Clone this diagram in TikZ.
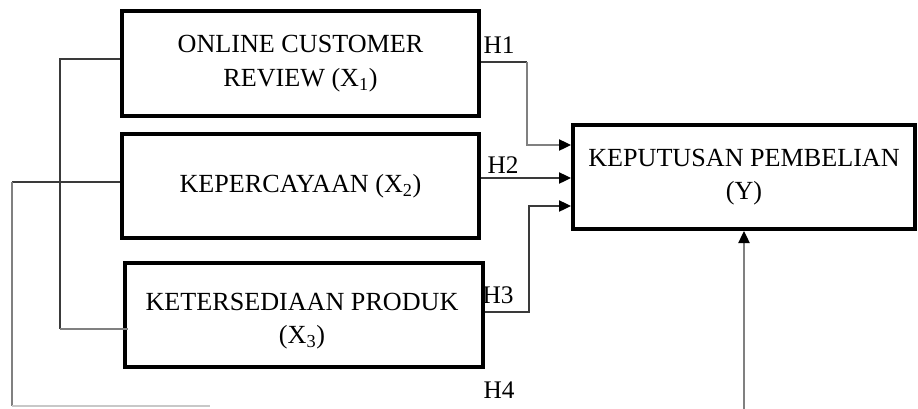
\documentclass[tikz,border=0pt]{standalone}
\usepackage{fontspec}
\setmainfont{Liberation Serif}
\usetikzlibrary{arrows.meta}
\definecolor{conn}{HTML}{3A3A3A}
\definecolor{connlight}{HTML}{808080}
\definecolor{connpale}{HTML}{C8C8C8}
\begin{document}
\begin{tikzpicture}[x=0.75pt,y=-0.75pt,
  box/.style={draw=black, line width=3pt, fill=white, align=center, inner sep=0pt,
    font=\fontsize{19.6}{25}\selectfont},
  lbl/.style={font=\fontsize{19}{22}\selectfont, inner sep=0pt},
  wire/.style={draw=conn, line width=0.9pt},
  arr/.style={wire, -{Triangle[length=9pt,width=8.5pt,color=black]}}
]
\useasboundingbox (0,0) rectangle (918,408);
\node[box, minimum width=267.75pt, minimum height=78.75pt] (b1) at (300.5,63.5) {ONLINE CUSTOMER\\REVIEW (X\textsubscript{1})};
\node[box, minimum width=267.75pt, minimum height=78pt] (b2) at (300.5,186) {KEPERCAYAAN (X\textsubscript{2})};
\node[box, minimum width=268.5pt, minimum height=78pt] (b3) at (304,315) {};
\node[font=\fontsize{19.6}{25}\selectfont, align=center, inner sep=0pt] (t3) at (302,321) {KETERSEDIAAN PRODUK\\(X\textsubscript{3})};
\node[box, minimum width=256.5pt, minimum height=78pt] (y) at (744,177) {KEPUTUSAN PEMBELIAN\\(Y)};

\node[lbl] (h1) at (499,45) {H1};
\node[lbl] (h2) at (503,165) {H2};
\node[lbl] (h3) at (498,295) {H3};
\node[lbl] (h4) at (499,390) {H4};

% H1
\coordinate (h1a) at (527,62);
\coordinate (h1b) at (527,145);
\draw[wire] (b1.east |- 0,62) -- (h1a);
\draw[arr, draw=connlight] (h1a) -- (h1b) -- (y.west |- 0,145);
% H2
\draw[arr] (b2.east |- 0,178) -- (y.west |- 0,178);
% H3
\coordinate (h3a) at (529,312);
\coordinate (h3b) at (529,206);
\draw[arr] (b3.east |- 0,312) -- (h3a) -- (h3b) -- (y.west |- 0,206);

% left connectors
\coordinate (l1a) at (60,59);
\coordinate (l1b) at (60,329);
\coordinate (l1c) at (128,329);
\draw[wire] (b1.west |- 0,59) -- (l1a) -- (l1b);
\draw[wire, draw=connlight] (l1b) -- (l1c);
\coordinate (l2a) at (12,182);
\coordinate (l2b) at (12,406);
\coordinate (l2c) at (210,406);
\draw[wire] (b2.west |- 0,182) -- (l2a);
\draw[wire, draw=connlight] (l2a) -- (l2b);
\draw[wire, draw=connpale] (l2b) -- (l2c);
% H4 arrow up
\coordinate (h4s) at (744,410);
\draw[arr, draw=connlight] (h4s) -- (y.south);
\end{tikzpicture}
\end{document}
